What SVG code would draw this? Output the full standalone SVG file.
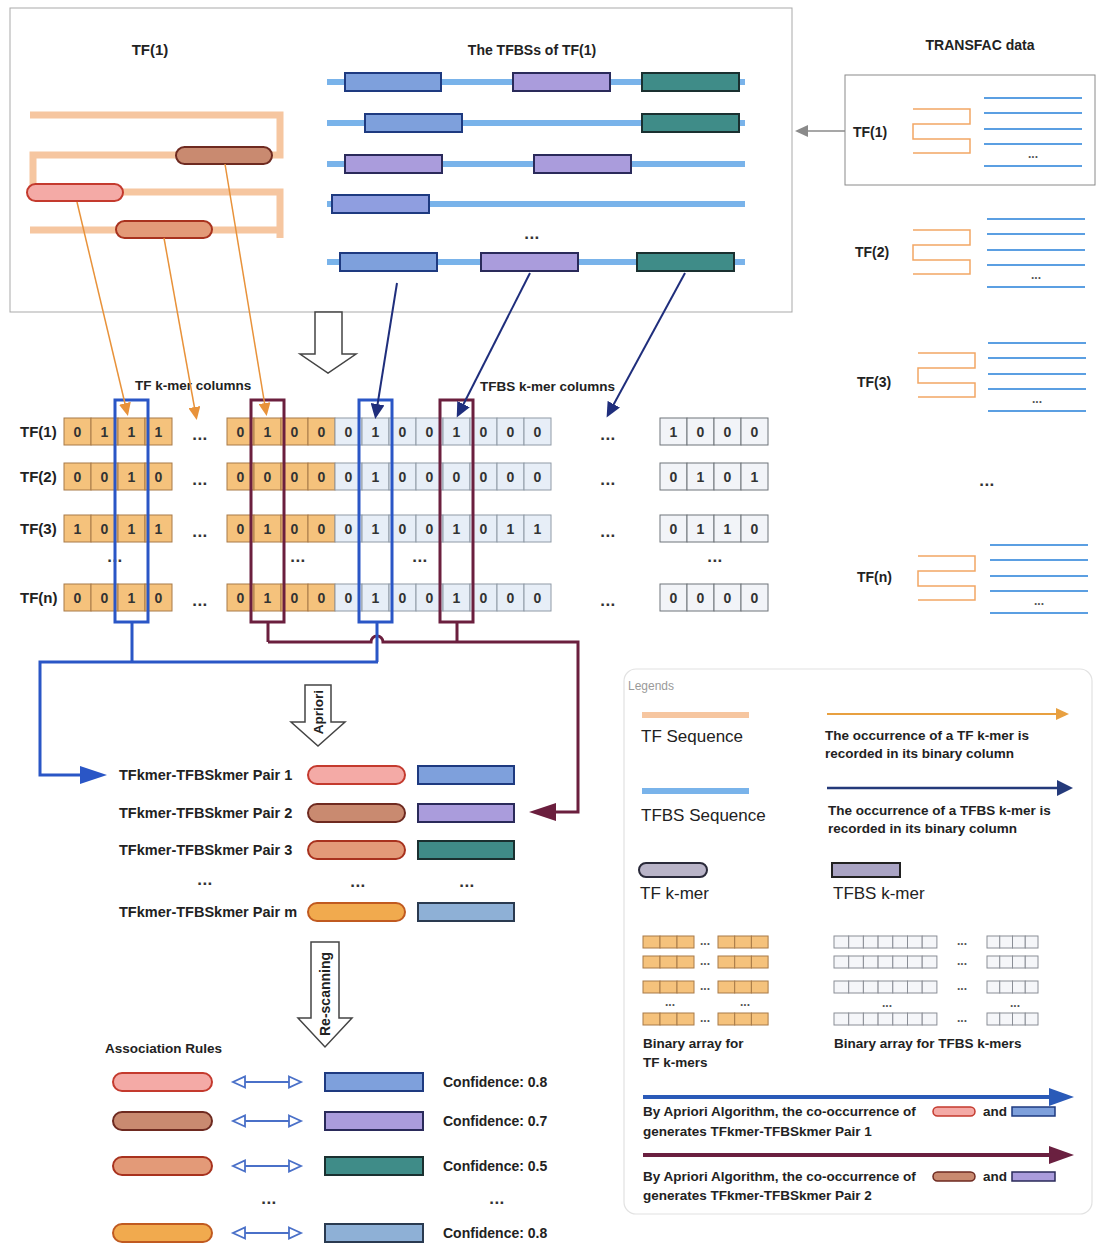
<svg xmlns="http://www.w3.org/2000/svg" width="1096" height="1243" viewBox="0 0 1096 1243">
<defs>
<style>
text{font-family:"Liberation Sans",Arial,Helvetica,sans-serif;fill:#222}
.b{font-weight:bold}
.f13{font-size:13.5px}
.f125{font-size:13.5px}
.f14{font-size:14px}
.f15{font-size:15px}
.f17{font-size:17px}
.pr{font-size:14.5px;font-weight:bold}
.cf{font-size:14px;font-weight:bold}
.mid{text-anchor:middle}
.dg{font-size:14px;font-weight:bold;text-anchor:middle;fill:#333}
.dots{font-size:17px;font-weight:bold;text-anchor:middle;fill:#333;letter-spacing:0.5px}
.sd{font-size:12px;font-weight:bold;text-anchor:middle;fill:#555}
.oc{fill:#f5c27c;stroke:#a87a48;stroke-width:1}
.bc{fill:#e7eef7;stroke:#8f9aa6;stroke-width:1}
.wc{fill:#f2f4f8;stroke:#6f747a;stroke-width:1}
.mc{fill:#f5f6f9;stroke:#8a8e96;stroke-width:1}
.pk{fill:#f4aaa6;stroke:#c43a2e;stroke-width:2}
.br{fill:#c98a70;stroke:#6e2a20;stroke-width:2}
.orr{fill:#e39a78;stroke:#a8321e;stroke-width:2}
.og{fill:#f1aa4e;stroke:#c05a20;stroke-width:2}
.rb{fill:#7ea0dc;stroke:#1e3a80;stroke-width:2}
.rl{fill:#8f9ee0;stroke:#1e3a80;stroke-width:2}
.rp{fill:#aa9cdc;stroke:#2a2a5a;stroke-width:2}
.rt{fill:#3f8c88;stroke:#1a3030;stroke-width:2}
.rg{fill:#8eb0d6;stroke:#2a3a50;stroke-width:2}
.tfs{fill:none;stroke:#f6c6a0;stroke-width:7}
.tbs{stroke:#79b3ea;stroke-width:6}
.mo{fill:none;stroke:#f2a664;stroke-width:1.5}
.mb{stroke:#5b9fe2;stroke-width:2}
.hol{fill:#fff;stroke:#444;stroke-width:1.5}
</style>
<marker id="mO" markerUnits="userSpaceOnUse" markerWidth="14" markerHeight="12" refX="9" refY="6" orient="auto"><path d="M0,0 L13,6 L0,12 z" fill="#e8923a"/></marker>
<marker id="mN" markerUnits="userSpaceOnUse" markerWidth="16" markerHeight="14" refX="10" refY="7" orient="auto"><path d="M0,0 L15,7 L0,14 z" fill="#1f2e7c"/></marker>
<marker id="mG" markerUnits="userSpaceOnUse" markerWidth="14" markerHeight="12" refX="10" refY="6" orient="auto"><path d="M0,0 L13,6 L0,12 z" fill="#8a8a8a"/></marker>
<marker id="mH" markerUnits="userSpaceOnUse" markerWidth="16" markerHeight="14" refX="13" refY="7" orient="auto-start-reverse"><path d="M1,1.5 L13,7 L1,12.5 z" fill="#fff" stroke="#4a70c8" stroke-width="1.8"/></marker>
<g id="g1row"><rect class="oc" x="0" y="0" width="27" height="27"/><rect class="oc" x="27" y="0" width="27" height="27"/><rect class="oc" x="54" y="0" width="27" height="27"/><rect class="oc" x="81" y="0" width="27" height="27"/></g>
<g id="g2row"><rect class="oc" x="0" y="0" width="27" height="27"/><rect class="oc" x="27" y="0" width="27" height="27"/><rect class="oc" x="54" y="0" width="27" height="27"/><rect class="oc" x="81" y="0" width="27" height="27"/><rect class="bc" x="108" y="0" width="27" height="27"/><rect class="bc" x="135" y="0" width="27" height="27"/><rect class="bc" x="162" y="0" width="27" height="27"/><rect class="bc" x="189" y="0" width="27" height="27"/><rect class="bc" x="216" y="0" width="27" height="27"/><rect class="bc" x="243" y="0" width="27" height="27"/><rect class="bc" x="270" y="0" width="27" height="27"/><rect class="bc" x="297" y="0" width="27" height="27"/></g>
<g id="g3row"><rect class="wc" x="0" y="0" width="27" height="27"/><rect class="wc" x="27" y="0" width="27" height="27"/><rect class="wc" x="54" y="0" width="27" height="27"/><rect class="wc" x="81" y="0" width="27" height="27"/></g>
<g id="omini"><rect class="oc" x="0" y="0" width="17" height="12"/><rect class="oc" x="17" y="0" width="17" height="12"/><rect class="oc" x="34" y="0" width="17" height="12"/><rect class="oc" x="75" y="0" width="16.7" height="12"/><rect class="oc" x="91.7" y="0" width="16.7" height="12"/><rect class="oc" x="108.4" y="0" width="16.7" height="12"/></g>
<g id="bmini"><rect class="mc" x="0" y="0" width="14.7" height="12"/><rect class="mc" x="14.7" y="0" width="14.7" height="12"/><rect class="mc" x="29.4" y="0" width="14.7" height="12"/><rect class="mc" x="44.1" y="0" width="14.7" height="12"/><rect class="mc" x="58.8" y="0" width="14.7" height="12"/><rect class="mc" x="73.5" y="0" width="14.7" height="12"/><rect class="mc" x="88.2" y="0" width="14.7" height="12"/><rect class="mc" x="153" y="0" width="12.75" height="12"/><rect class="mc" x="165.75" y="0" width="12.75" height="12"/><rect class="mc" x="178.5" y="0" width="12.75" height="12"/><rect class="mc" x="191.25" y="0" width="12.75" height="12"/></g>
<path id="serp" d="M0,0 H57 V15 H0 V30 H57 V44 H0"/>
<g id="blines"><line x1="0" y1="0" x2="98" y2="0"/><line x1="0" y1="15" x2="98" y2="15"/><line x1="0" y1="31" x2="98" y2="31"/><line x1="0" y1="46" x2="98" y2="46"/><line x1="0" y1="68" x2="98" y2="68"/></g>
</defs>
<rect width="1096" height="1243" fill="#fff"/>

<!-- Top panel -->
<g id="tf1-panel">
<rect x="10" y="8" width="782" height="304" fill="#fff" stroke="#a9a9a9" stroke-width="1"/>
<text class="b f15 mid" x="150" y="55">TF(1)</text>
<text class="b f14 mid" x="532" y="55">The TFBSs of TF(1)</text>
<path class="tfs" d="M30,115 H280 V155 H33 V192 H280 V238 M280,230 H30"/>
<rect class="br" x="176" y="147" width="96" height="17" rx="8.5"/>
<rect class="pk" x="27" y="184" width="96" height="17" rx="8.5"/>
<rect class="orr" x="116" y="221" width="96" height="17" rx="8.5"/>
<line class="tbs" x1="327" y1="82" x2="745" y2="82"/>
<line class="tbs" x1="327" y1="123" x2="745" y2="123"/>
<line class="tbs" x1="327" y1="164" x2="745" y2="164"/>
<line class="tbs" x1="327" y1="204" x2="745" y2="204"/>
<line class="tbs" x1="327" y1="262" x2="745" y2="262"/>
<rect class="rb" x="345" y="73" width="96" height="18"/>
<rect class="rp" x="513" y="73" width="97" height="18"/>
<rect class="rt" x="642" y="73" width="97" height="18"/>
<rect class="rb" x="365" y="114" width="97" height="18"/>
<rect class="rt" x="642" y="114" width="97" height="18"/>
<rect class="rp" x="345" y="155" width="97" height="18"/>
<rect class="rp" x="534" y="155" width="97" height="18"/>
<rect class="rl" x="332" y="195" width="97" height="18"/>
<text class="dots" x="532" y="239">...</text>
<rect class="rb" x="340" y="253" width="97" height="18"/>
<rect class="rp" x="481" y="253" width="97" height="18"/>
<rect class="rt" x="637" y="253" width="97" height="18"/>
</g>

<!-- TRANSFAC data -->
<g id="transfac">
<text class="b f14 mid" x="980" y="50">TRANSFAC data</text>
<rect x="845" y="75" width="250" height="110" fill="#fff" stroke="#8a8a8a" stroke-width="1"/>
<text class="b f14" x="853" y="137">TF(1)</text>
<use href="#serp" class="mo" x="913" y="109"/>
<use href="#blines" class="mb" x="984" y="98"/>
<text class="sd" x="1033" y="158">...</text>
<text class="b f14" x="855" y="257">TF(2)</text>
<use href="#serp" class="mo" x="913" y="230"/>
<use href="#blines" class="mb" x="987" y="219"/>
<text class="sd" x="1036" y="279">...</text>
<text class="b f14" x="857" y="387">TF(3)</text>
<use href="#serp" class="mo" x="918" y="353"/>
<use href="#blines" class="mb" x="988" y="343"/>
<text class="sd" x="1037" y="403">...</text>
<text class="dots" x="987" y="486">...</text>
<text class="b f14" x="857" y="582">TF(n)</text>
<use href="#serp" class="mo" x="918" y="556"/>
<use href="#blines" class="mb" x="990" y="545"/>
<text class="sd" x="1039" y="605">...</text>
</g>

<!-- Hollow arrow from panel -->
<g id="down-arrow"><polygon class="hol" points="315,312 342,312 342,354 356,354 328,373 300,354 315,354"/></g>

<!-- Binary matrix -->
<g id="matrix">
<text class="b f13" x="135" y="390">TF k-mer columns</text>
<text class="b f13" x="480" y="391">TFBS k-mer columns</text>
<use href="#g1row" x="64" y="418"/><use href="#g2row" x="227" y="418"/><use href="#g3row" x="660" y="418"/>
<use href="#g1row" x="64" y="463"/><use href="#g2row" x="227" y="463"/><use href="#g3row" x="660" y="463"/>
<use href="#g1row" x="64" y="515"/><use href="#g2row" x="227" y="515"/><use href="#g3row" x="660" y="515"/>
<use href="#g1row" x="64" y="584"/><use href="#g2row" x="227" y="584"/><use href="#g3row" x="660" y="584"/>
<text class="b f15" x="20" y="437">TF(1)</text>
<text class="b f15" x="20" y="482">TF(2)</text>
<text class="b f15" x="20" y="534">TF(3)</text>
<text class="b f15" x="20" y="603">TF(n)</text>
<text class="dg" x="77.5 104.5 131.5 158.5" y="437">0111</text>
<text class="dg" x="240.5 267.5 294.5 321.5 348.5 375.5 402.5 429.5 456.5 483.5 510.5 537.5" y="437">010001001000</text>
<text class="dg" x="673.5 700.5 727.5 754.5" y="437">1000</text>
<text class="dg" x="77.5 104.5 131.5 158.5" y="482">0010</text>
<text class="dg" x="240.5 267.5 294.5 321.5 348.5 375.5 402.5 429.5 456.5 483.5 510.5 537.5" y="482">000001000000</text>
<text class="dg" x="673.5 700.5 727.5 754.5" y="482">0101</text>
<text class="dg" x="77.5 104.5 131.5 158.5" y="534">1011</text>
<text class="dg" x="240.5 267.5 294.5 321.5 348.5 375.5 402.5 429.5 456.5 483.5 510.5 537.5" y="534">010001001011</text>
<text class="dg" x="673.5 700.5 727.5 754.5" y="534">0110</text>
<text class="dg" x="77.5 104.5 131.5 158.5" y="603">0010</text>
<text class="dg" x="240.5 267.5 294.5 321.5 348.5 375.5 402.5 429.5 456.5 483.5 510.5 537.5" y="603">010001001000</text>
<text class="dg" x="673.5 700.5 727.5 754.5" y="603">0000</text>
<text class="dots" x="200" y="440">...</text><text class="dots" x="608" y="440">...</text>
<text class="dots" x="200" y="485">...</text><text class="dots" x="608" y="485">...</text>
<text class="dots" x="200" y="537">...</text><text class="dots" x="608" y="537">...</text>
<text class="dots" x="200" y="606">...</text><text class="dots" x="608" y="606">...</text>
<text class="dots" x="115" y="562">...</text><text class="dots" x="298" y="562">...</text>
<text class="dots" x="420" y="562">...</text><text class="dots" x="715" y="562">...</text>
<rect x="115" y="400" width="33" height="222" fill="none" stroke="#2a56c6" stroke-width="3"/>
<rect x="251" y="400" width="33" height="222" fill="none" stroke="#6b1f3e" stroke-width="3"/>
<rect x="359" y="400" width="33" height="222" fill="none" stroke="#2a56c6" stroke-width="3"/>
<rect x="440" y="400" width="33" height="222" fill="none" stroke="#6b1f3e" stroke-width="3"/>
</g>

<!-- Connectors -->
<g id="connectors">
<line x1="77" y1="202" x2="127" y2="412" stroke="#e8923a" stroke-width="1.5" marker-end="url(#mO)"/>
<line x1="164" y1="238" x2="196" y2="416" stroke="#e8923a" stroke-width="1.5" marker-end="url(#mO)"/>
<line x1="225" y1="164" x2="266" y2="412" stroke="#e8923a" stroke-width="1.5" marker-end="url(#mO)"/>
<line x1="397" y1="283" x2="376" y2="414" stroke="#1f2e7c" stroke-width="2" marker-end="url(#mN)"/>
<line x1="530" y1="273" x2="459" y2="413" stroke="#1f2e7c" stroke-width="2" marker-end="url(#mN)"/>
<line x1="685" y1="273" x2="609" y2="413" stroke="#1f2e7c" stroke-width="2" marker-end="url(#mN)"/>
<line x1="845" y1="131" x2="798" y2="131" stroke="#8a8a8a" stroke-width="1.5" marker-end="url(#mG)"/>
<path d="M268,622 V642 M457,622 V642 M268,642 H371 A6,6 0 0 1 383,642 H578 V812 H552" fill="none" stroke="#6b1f3e" stroke-width="3"/>
<polygon points="556,803 529,812 556,821" fill="#6b1f3e"/>
<path d="M132,622 V662 M377,622 V662 M378,662 H40 V775 H84" fill="none" stroke="#2a56c6" stroke-width="3"/>
<polygon points="80,766 107,775 80,784" fill="#2a56c6"/>
</g>

<!-- Apriori -->
<g id="apriori">
<polygon class="hol" points="305,685 331,685 331,722 345,722 318,746 291,722 305,722"/>
<text class="b f13 mid" transform="translate(322.5,712) rotate(-90)">Apriori</text>
</g>

<!-- Pairs -->
<g id="pairs">
<text class="pr" x="119" y="780">TFkmer-TFBSkmer Pair 1</text>
<rect class="pk" x="308" y="766" width="97" height="18" rx="9"/>
<rect class="rb" x="418" y="766" width="96" height="18"/>
<text class="pr" x="119" y="818">TFkmer-TFBSkmer Pair 2</text>
<rect class="br" x="308" y="804" width="97" height="18" rx="9"/>
<rect class="rp" x="418" y="804" width="96" height="18"/>
<text class="pr" x="119" y="855">TFkmer-TFBSkmer Pair 3</text>
<rect class="orr" x="308" y="841" width="97" height="18" rx="9"/>
<rect class="rt" x="418" y="841" width="96" height="18"/>
<text class="dots" x="205" y="885">...</text>
<text class="dots" x="358" y="887">...</text>
<text class="dots" x="467" y="887">...</text>
<text class="pr" x="119" y="917">TFkmer-TFBSkmer Pair m</text>
<rect class="og" x="308" y="903" width="97" height="18" rx="9"/>
<rect class="rg" x="418" y="903" width="96" height="18"/>
</g>

<!-- Re-scanning -->
<g id="rescanning">
<polygon class="hol" points="311,942 339,942 339,1018 352,1018 325,1047 298,1018 311,1018"/>
<text class="b f14 mid" transform="translate(329.5,994) rotate(-90)">Re-scanning</text>
</g>

<!-- Association rules -->
<g id="rules">
<text class="b f13" x="105" y="1053">Association Rules</text>
<rect class="pk" x="113" y="1073" width="99" height="18" rx="9"/>
<line x1="233" y1="1082" x2="301" y2="1082" stroke="#4a70c8" stroke-width="1.8" marker-start="url(#mH)" marker-end="url(#mH)"/>
<rect class="rb" x="325" y="1073" width="98" height="18"/>
<text class="cf" x="443" y="1087">Confidence: 0.8</text>
<rect class="br" x="113" y="1112" width="99" height="18" rx="9"/>
<line x1="233" y1="1121" x2="301" y2="1121" stroke="#4a70c8" stroke-width="1.8" marker-start="url(#mH)" marker-end="url(#mH)"/>
<rect class="rp" x="325" y="1112" width="98" height="18"/>
<text class="cf" x="443" y="1126">Confidence: 0.7</text>
<rect class="orr" x="113" y="1157" width="99" height="18" rx="9"/>
<line x1="233" y1="1166" x2="301" y2="1166" stroke="#4a70c8" stroke-width="1.8" marker-start="url(#mH)" marker-end="url(#mH)"/>
<rect class="rt" x="325" y="1157" width="98" height="18"/>
<text class="cf" x="443" y="1171">Confidence: 0.5</text>
<text class="dots" x="269" y="1204">...</text>
<text class="dots" x="497" y="1204">...</text>
<rect class="og" x="113" y="1224" width="99" height="18" rx="9"/>
<line x1="233" y1="1233" x2="301" y2="1233" stroke="#4a70c8" stroke-width="1.8" marker-start="url(#mH)" marker-end="url(#mH)"/>
<rect class="rg" x="325" y="1224" width="98" height="18"/>
<text class="cf" x="443" y="1238">Confidence: 0.8</text>
</g>

<!-- Legend -->
<g id="legend">
<rect x="624" y="669" width="468" height="545" rx="12" fill="#fff" stroke="#e2e2e2" stroke-width="1.2"/>
<text x="628" y="690" style="font-size:12px;fill:#9a9a9a">Legends</text>
<line x1="642" y1="715" x2="749" y2="715" stroke="#f6c6a0" stroke-width="6"/>
<text class="f17" x="641" y="742">TF Sequence</text>
<line x1="827" y1="714" x2="1058" y2="714" stroke="#e8a040" stroke-width="1.8"/>
<polygon points="1056,708 1069,714 1056,720" fill="#e8a040"/>
<text class="b f125" x="825" y="740">The occurrence of a TF k-mer is</text>
<text class="b f125" x="825" y="758">recorded in its binary column</text>
<line x1="642" y1="791" x2="749" y2="791" stroke="#79b3ea" stroke-width="6"/>
<text class="f17" x="641" y="821">TFBS Sequence</text>
<line x1="827" y1="788" x2="1060" y2="788" stroke="#243a7a" stroke-width="2.5"/>
<polygon points="1057,780 1073,788 1057,796" fill="#243a7a"/>
<text class="b f125" x="828" y="815">The occurrence of a TFBS k-mer is</text>
<text class="b f125" x="828" y="833">recorded in its binary column</text>
<rect x="639" y="863" width="68" height="14" rx="7" fill="#b9b4c8" stroke="#2a2a3a" stroke-width="2"/>
<text class="f17" x="640" y="899">TF k-mer</text>
<rect x="832" y="863" width="68" height="14" fill="#aaa4c4" stroke="#222" stroke-width="2"/>
<text class="f17" x="833" y="899">TFBS k-mer</text>
<use href="#omini" x="643" y="936"/>
<use href="#omini" x="643" y="956"/>
<use href="#omini" x="643" y="981"/>
<use href="#omini" x="643" y="1013"/>
<text class="sd" x="705" y="945">...</text>
<text class="sd" x="705" y="965">...</text>
<text class="sd" x="705" y="990">...</text>
<text class="sd" x="705" y="1022">...</text>
<text class="sd" x="670" y="1006">...</text>
<text class="sd" x="745" y="1006">...</text>
<use href="#bmini" x="834" y="936"/>
<use href="#bmini" x="834" y="956"/>
<use href="#bmini" x="834" y="981"/>
<use href="#bmini" x="834" y="1013"/>
<text class="sd" x="962" y="945">...</text>
<text class="sd" x="962" y="965">...</text>
<text class="sd" x="962" y="990">...</text>
<text class="sd" x="962" y="1022">...</text>
<text class="sd" x="887" y="1007">...</text>
<text class="sd" x="1015" y="1007">...</text>
<text class="b f125" x="643" y="1048">Binary array for</text>
<text class="b f125" x="643" y="1067">TF k-mers</text>
<text class="b f125" x="834" y="1048">Binary array for TFBS k-mers</text>
<line x1="643" y1="1097" x2="1052" y2="1097" stroke="#2a5ab8" stroke-width="4"/>
<polygon points="1049,1088 1074,1097 1049,1106" fill="#2a5ab8"/>
<text class="b f125" x="643" y="1116">By Apriori Algorithm, the co-occurrence of</text>
<rect x="933" y="1107" width="42" height="9" rx="4.5" class="pk" style="stroke-width:1.5"/>
<text class="b f125" x="983" y="1116">and</text>
<rect x="1012" y="1107" width="43" height="9" class="rb" style="stroke-width:1.5"/>
<text class="b f125" x="643" y="1136">generates TFkmer-TFBSkmer Pair 1</text>
<line x1="643" y1="1155" x2="1052" y2="1155" stroke="#6a2040" stroke-width="4"/>
<polygon points="1049,1146 1074,1155 1049,1164" fill="#6a2040"/>
<text class="b f125" x="643" y="1181">By Apriori Algorithm, the co-occurrence of</text>
<rect x="933" y="1172" width="42" height="9" rx="4.5" class="br" style="stroke-width:1.5"/>
<text class="b f125" x="983" y="1181">and</text>
<rect x="1012" y="1172" width="43" height="9" class="rp" style="stroke-width:1.5"/>
<text class="b f125" x="643" y="1200">generates TFkmer-TFBSkmer Pair 2</text>
</g>
</svg>
